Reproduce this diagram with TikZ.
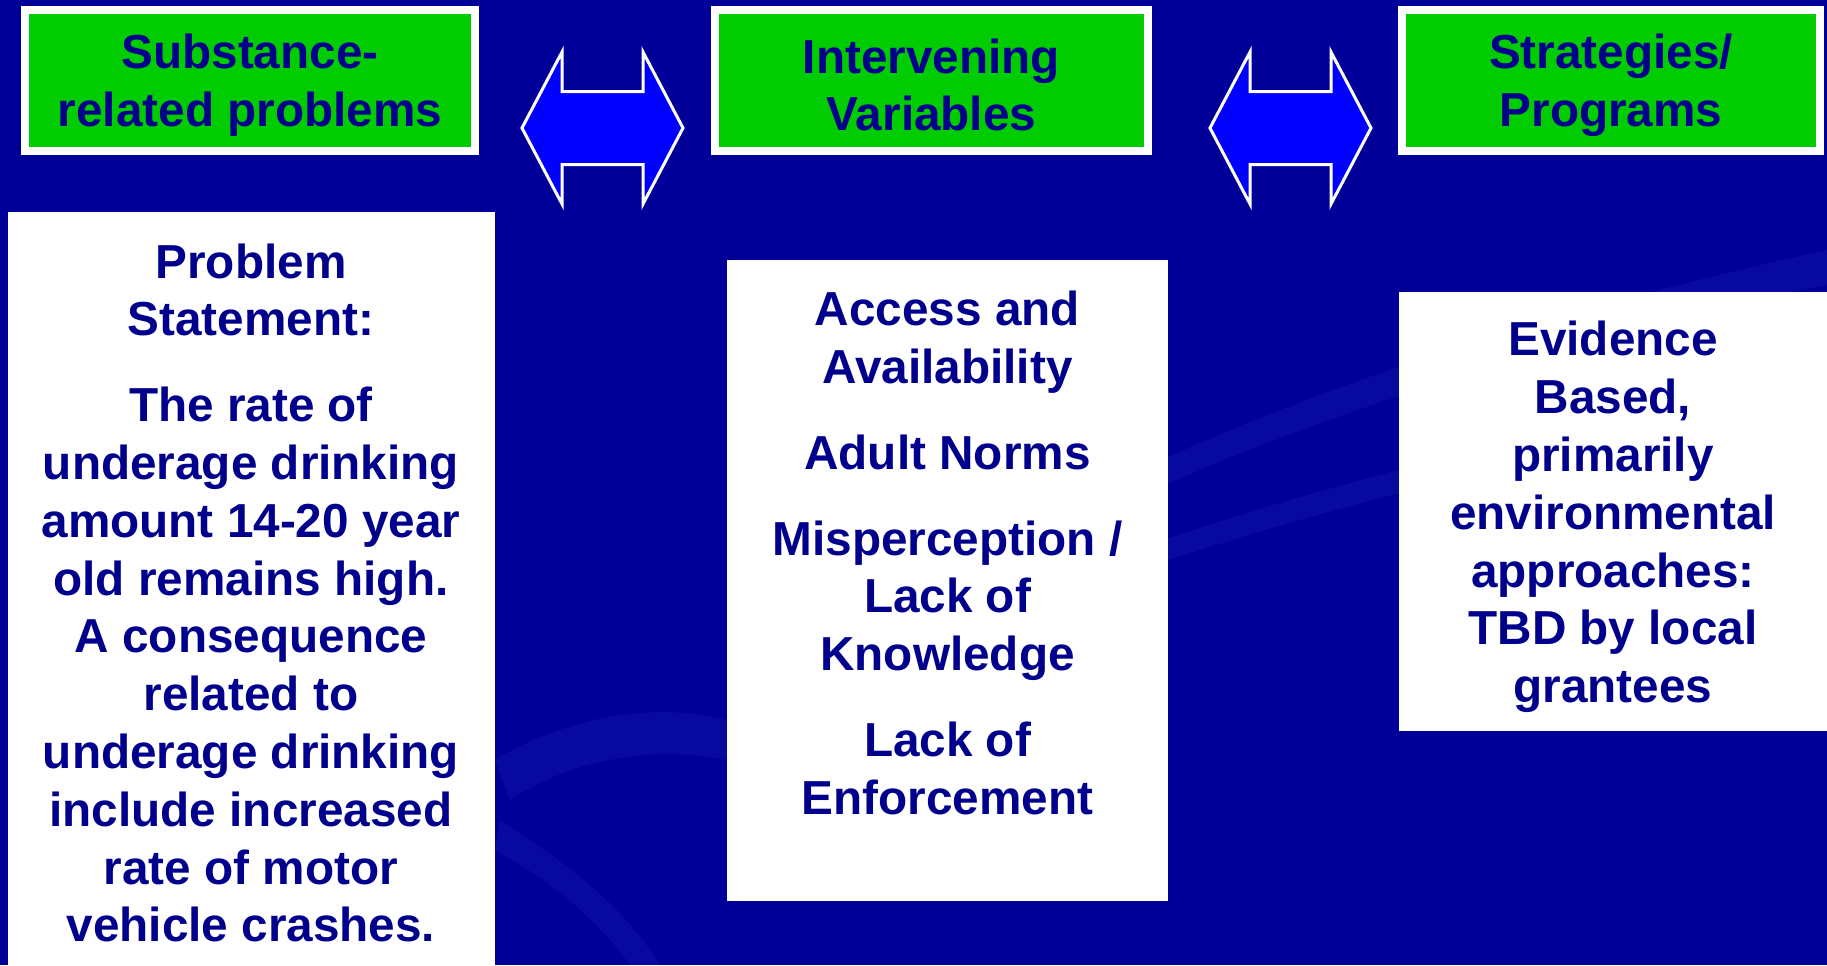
\documentclass[tikz,border=0pt]{standalone}
\usepackage{fontspec}
\setmainfont{Liberation Sans}
\usetikzlibrary{calc}
\definecolor{bgblue}{RGB}{0,0,153}
\definecolor{navy}{RGB}{0,0,140}
\definecolor{boxgreen}{RGB}{0,204,0}
\definecolor{arrblue}{RGB}{0,0,255}
\definecolor{streak}{RGB}{90,110,230}
\begin{document}
\begin{tikzpicture}[x=0.5pt,y=-0.5pt,
  txt/.style={font=\fontsize{23.85pt}{28.9pt}\selectfont\bfseries, text=navy, align=center, inner sep=0pt},
  greenbox/.style={draw=white, line width=4pt, fill=boxgreen, inner sep=0pt, minimum height=70.5pt},
  whitebox/.style={fill=white, draw=none, inner sep=0pt},
  blockarrow/.style={fill=arrblue, draw=white, line width=1.5pt, line join=miter}
]
% background
\path[fill=bgblue] (0,0) rectangle (1827,965);
\useasboundingbox (0,0) rectangle (1827,965);
% faint background streaks
\begin{scope}[opacity=0.09]
  \fill[streak] (1040,520) .. controls (1300,380) and (1600,300) .. (1827,250) -- (1827,285) .. controls (1600,330) and (1300,410) .. (1050,540) -- cycle;
  \fill[streak] (1000,600) .. controls (1250,500) and (1550,420) .. (1827,390) -- (1827,410) .. controls (1550,445) and (1250,525) .. (1010,615) -- cycle;
  \fill[streak] (495,760) .. controls (560,720) and (650,700) .. (727,720) -- (727,760) .. controls (650,745) and (570,760) .. (510,800) -- cycle;
  \fill[streak] (500,820) .. controls (560,860) and (620,900) .. (660,965) -- (630,965) .. controls (590,910) and (540,875) .. (495,850) -- cycle;
\end{scope}
% green header boxes
\node[greenbox, minimum width=225pt] (g1) at (250,80.5) {};
\node[txt] (g1t) at (250,85) {Substance-\\related problems};
\node[greenbox, minimum width=216.5pt] (g2) at (931.5,80) {};
\node[txt] (g2t) at (931.5,85) {Intervening\\Variables};
\node[greenbox, minimum width=209pt] (g3) at (1611,80) {};
\node[txt] (g3t) at (1611,85) {Strategies/\\Programs};
% block double arrows
\coordinate (a1) at (602.5,128);
\coordinate (a2) at (1290.5,128);
\foreach \c in {a1,a2}{
  \draw[blockarrow] ($(\c)+(-80.5,0)$) -- ++(40,-76) -- ++(0,39.5) -- ++(81,0) -- ++(0,-39.5) -- ++(40,76) -- ++(-40,76) -- ++(0,-39.5) -- ++(-81,0) -- ++(0,39.5) -- cycle;
}
% white content boxes
\node[whitebox, minimum width=243.5pt, minimum height=376.5pt] (w1) at (251.5,588.5) {};
\node[txt] (w1t) at (251,593) {Problem\\Statement:\\[14pt]The rate of\\underage drinking\\amount 14-20 year\\old remains high.\\A consequence\\related to\\underage drinking\\include increased\\rate of motor\\vehicle crashes.};
\node[whitebox, minimum width=220.5pt, minimum height=320.5pt] (w2) at (947.5,580.5) {};
\node[txt] (w2t) at (947.5,553) {Access and\\Availability\\[14pt]Adult Norms\\[14pt]Misperception /\\Lack of\\Knowledge\\[14pt]Lack of\\Enforcement};
\node[whitebox, minimum width=214pt, minimum height=219.5pt] (w3) at (1613,511.5) {};
\node[txt] (w3t) at (1613,517) {Evidence\\Based,\\primarily\\environmental\\approaches:\\ TBD by local\\grantees};
\end{tikzpicture}
\end{document}
